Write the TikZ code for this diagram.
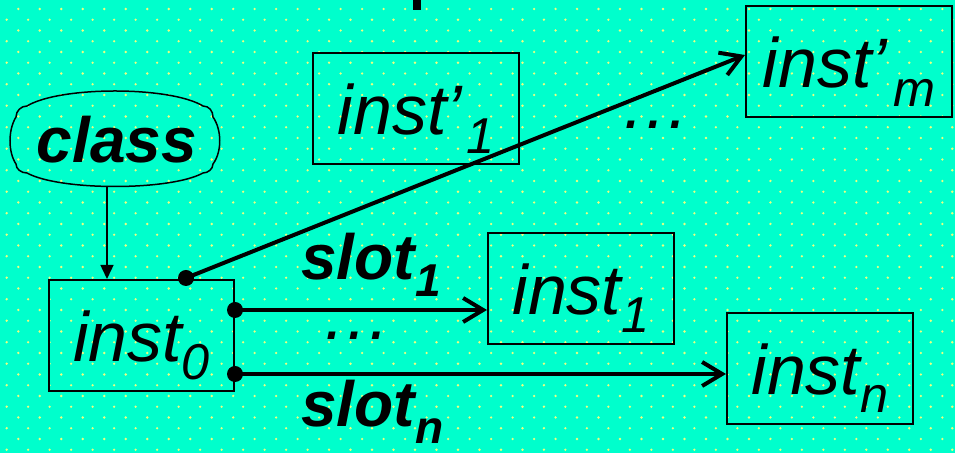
\documentclass[tikz,border=0pt]{standalone}
\usepackage{fontspec}
\setmainfont{Liberation Sans}
\usepackage{graphicx}
\usetikzlibrary{arrows.meta}
\definecolor{slideTeal}{HTML}{00FFCC}
\definecolor{slideDot}{HTML}{EEFF80}
\newcommand\lowsub[1]{\raisebox{-0.26em}{\scalebox{0.72}{#1}}}
\newcommand\instfont{\fontsize{35}{40}\selectfont\itshape}
\newcommand\slotfont{\fontsize{32}{36}\selectfont\bfseries\itshape}

\begin{document}
\begin{tikzpicture}[x=0.5pt, y=-0.5pt,
  instbox/.style={draw, line width=1pt, inner sep=0pt, minimum height=55.5pt,
    text height=26pt, text depth=0pt, font=\instfont},
  slotlabel/.style={inner sep=0pt, anchor=base west, font=\slotfont},
  gap/.style={inner sep=0pt, anchor=base, text height=4pt, font=\instfont},
  thinarr/.style={line width=0.75pt, -{Triangle[length=7pt,width=6.5pt]}},
  slotarr/.style={line width=2pt, -{Straight Barb[length=10pt,width=12pt]}}]

    % ---------- slide background ----------
    \useasboundingbox (0,0) rectangle (955,453);
    \begin{scope}
        \clip (0,0) rectangle (955,453);
        \fill[slideTeal] (0,0) rectangle (955,453);
        \foreach \r in {0,...,41} {
            \pgfmathsetmacro{\yy}{9+10.75*\r}
            \pgfmathsetmacro{\xo}{mod(\r,2)==0 ? 18.3 : 6.7}
            \foreach \k in {0,...,44}
                \fill[slideDot] (\xo+21.49*\k,\yy) circle[radius=1.3];
        }
        \fill (413,0) rectangle (421,10);
    \end{scope}

    % ---------- class ----------
    \node[inner sep=0pt, anchor=base, font=\slotfont] (class) at (117,163) {class};
    \draw[line width=0.75pt] (27,106) .. controls (60,86) and (170,86) .. (203,106)
        .. controls (209,106) and (213,111) .. (213,117)
        .. controls (222,130) and (222,152) .. (213,164)
        .. controls (213,169) and (208,173) .. (203,173)
        .. controls (170,191) and (60,191) .. (27,173)
        .. controls (21,173) and (16,169) .. (16,164)
        .. controls (8,152) and (8,130) .. (16,117)
        .. controls (16,111) and (21,106) .. (27,106) -- cycle;
    \coordinate (cloudbot) at (107,186);

    % ---------- instances ----------
    \node[instbox, minimum width=92.5pt] (inst0) at (141.5,335.5) {inst\lowsub{0}};
    \node[instbox, minimum width=93pt] (inst1) at (581,288.5) {inst\lowsub{1}};
    \node[instbox, minimum width=93pt] (instn) at (820,368.5) {inst\lowsub{n}};
    \node[instbox, minimum width=103pt] (instp1) at (416,109) {inst’\lowsub{\kern3pt 1}};
    \node[instbox, minimum width=103pt] (instpm) at (849,62) {inst’\lowsub{\kern4pt m}};

    \node[gap] (dots1) at (356,340) {…};
    \node[gap] (dots2) at (655,129) {…};

    \node[slotlabel] (slot1) at (301,280) {slot\lowsub{1}};
    \node[slotlabel] (slotn) at (301,427) {slot\lowsub{n}};

    % ---------- links ----------
    \draw[thinarr] (cloudbot) -- (cloudbot |- inst0.north);

    \coordinate (s0) at (186,278);
    \coordinate (s1) at (inst0.east |- 0,310);
    \coordinate (sn) at (inst0.east |- 0,374);
    \draw[slotarr] (s0) -- ([yshift=3.5pt]instpm.west);
    \draw[slotarr] (s1) -- (s1 -| inst1.west);
    \draw[slotarr] (sn) -- (sn -| instn.west);
    \foreach \p in {s0,s1,sn}
        \fill (\p) circle[radius=8];
\end{tikzpicture}
\end{document}
